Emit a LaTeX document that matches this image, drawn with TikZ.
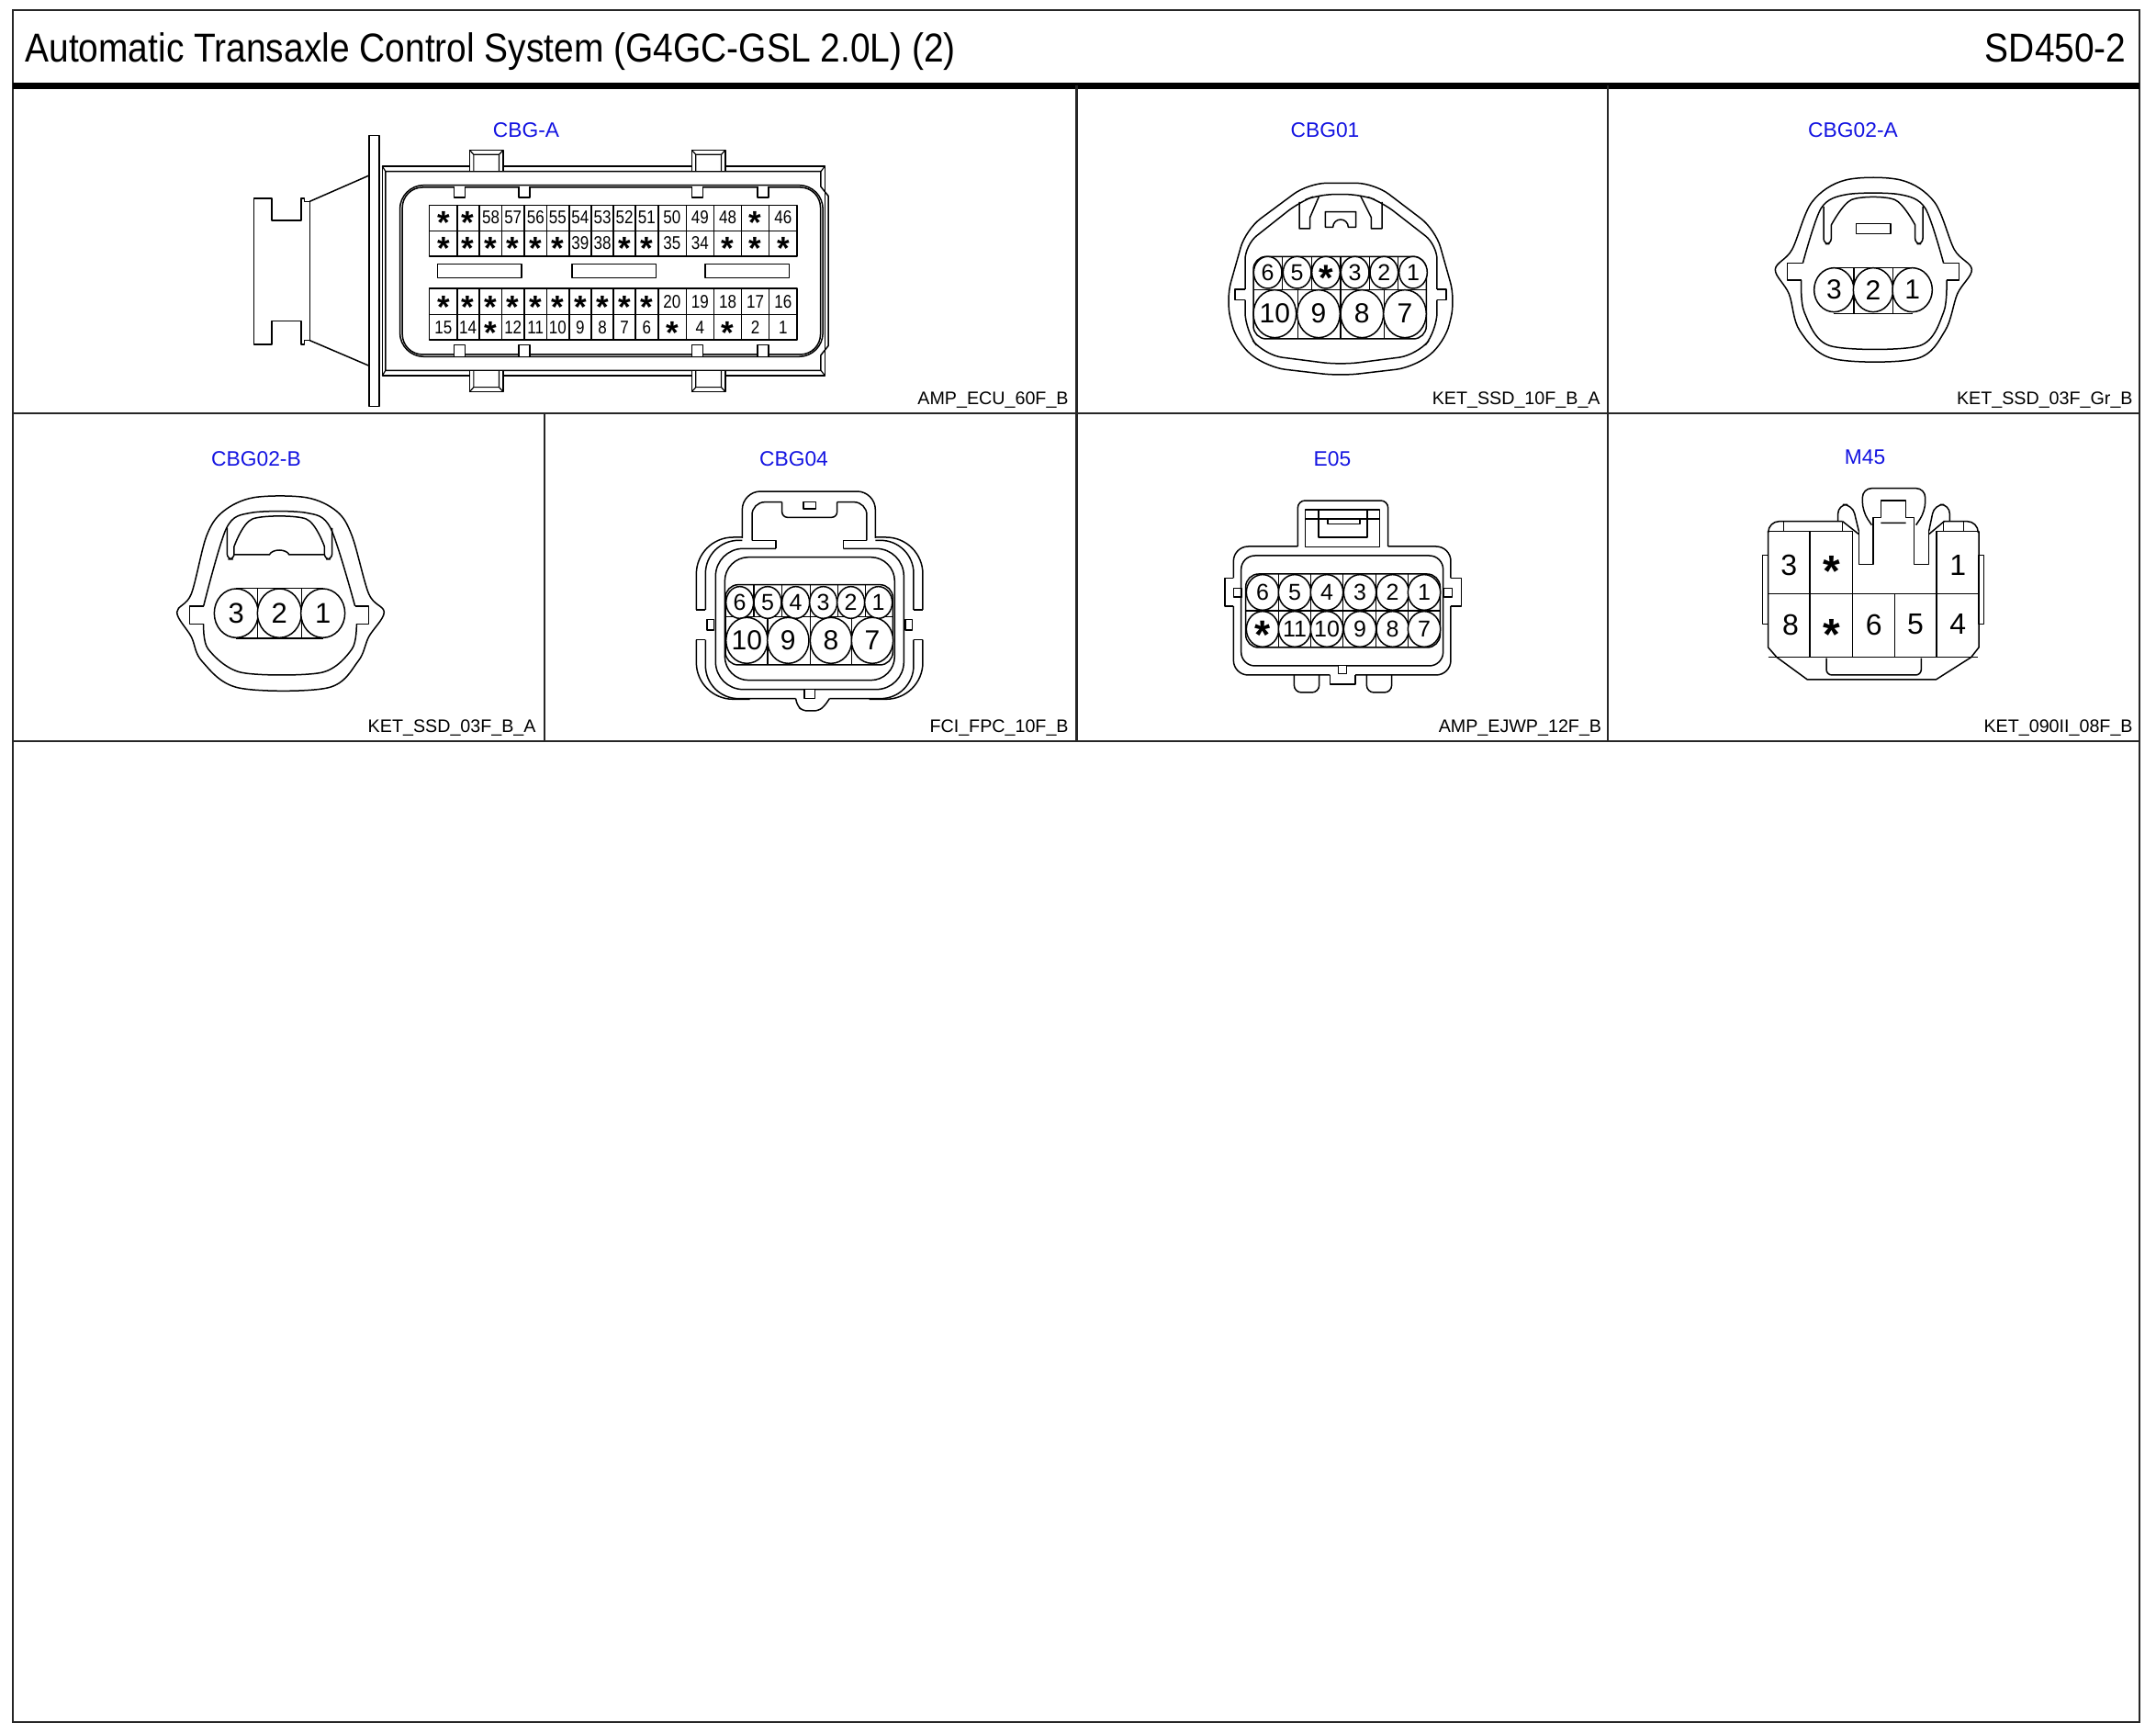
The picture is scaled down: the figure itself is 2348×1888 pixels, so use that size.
\documentclass[tikz,border=0pt]{standalone}
\usepackage{fontspec}
\setmainfont{Liberation Sans}
\newfontfamily\narrowpin[FakeStretch=0.85]{Liberation Sans}
\newfontfamily\titlefont[FakeStretch=0.885]{Liberation Sans}
\newcommand\starp[1]{{\fontsize{#1}{#1}\selectfont\bfseries\raisebox{-.5em}[.2em][.2em]{*}}}
\definecolor{headblue}{RGB}{20,20,225}
\tikzset{
  frameline/.style={line width=1.1pt,black!85},
  part/.style={line width=.75pt,black,line join=round},
  fine/.style={line width=.6pt,black},
  heading/.style={text=headblue,font=\fontsize{11.4}{12}\selectfont,inner sep=0pt},
  partno/.style={font=\fontsize{9.85}{11}\selectfont,inner sep=0pt,anchor=base east},
  pinlab/.style={inner sep=0pt},
  titletext/.style={inner sep=0pt,font=\titlefont\fontsize{22}{24}\selectfont},
}
% \pin{x}{y}{rx}{ry}{label}: white circular cavity with its printed number
\newcommand\pin[6]{\draw[part,fill=white] (#2,#3) ellipse [x radius=#4,y radius=#5];
  \node[pinlab] (#1) at (#2,#3) {#6};}
% \ecupin{name}{x}{y}{label}: a cell of the CBG-A grid, S stands for a star
\def\starcode{S}
\newcommand\ecupin[4]{\edef\curlab{#4}%
  \ifx\curlab\starcode\node[pinlab] (#1) at (#2,#3) {\starp{17.5}};%
  \else\node[pinlab] (#1) at (#2,#3) {\narrowpin\fontsize{10}{11}\selectfont #4};\fi}
\begin{document}
\begin{tikzpicture}[x=0.5pt,y=-0.5pt]
\useasboundingbox (0,0) rectangle (2348,1888);
\fill[white] (0,0) rectangle (2348,1888);
% frame
\draw[frameline] (14,11) rectangle (2330,1875);
\draw[line width=3.5pt] (14,93.5) -- (2330,93.5);
\draw[frameline] (14,450) -- (2330,450);
\draw[frameline] (14,807) -- (2330,807);
\draw[frameline] (1172.5,93) -- (1172.5,807);
\draw[frameline] (1751,93) -- (1751,807);
\draw[frameline] (593,450) -- (593,807);
\node[titletext,anchor=base west] (title) at (27,68) {Automatic Transaxle Control System (G4GC-GSL 2.0L) (2)};
\node[titletext,anchor=base east] (code) at (2316,68) {SD450-2};
% headings
\node[heading] (h1) at (573,142) {CBG-A};
\node[heading] (h2) at (1443,142) {CBG01};
\node[heading] (h3) at (2018,142) {CBG02-A};
\node[heading] (h4) at (279,499.5) {CBG02-B};
\node[heading] (h5) at (864.5,499.5) {CBG04};
\node[heading] (h6) at (1451,499.5) {E05};
\node[heading] (h7) at (2031,498) {M45};
% part numbers
\node[partno] (p1) at (1164,440) {AMP\_ECU\_60F\_B};
\node[partno] (p2) at (1743,440) {KET\_SSD\_10F\_B\_A};
\node[partno] (p3) at (2323,440) {KET\_SSD\_03F\_Gr\_B};
\node[partno] (p4) at (584,797) {KET\_SSD\_03F\_B\_A};
\node[partno] (p5) at (1164,797) {FCI\_FPC\_10F\_B};
\node[partno] (p6) at (1744.5,797) {AMP\_EJWP\_12F\_B};
\node[partno] (p7) at (2323,797) {KET\_090II\_08F\_B};

% ---------- CBG-A
\begin{scope}[shift={(240,110)},xscale=0.4464,yscale=0.3333]
\draw[part] (363,113) rectangle (388,998);
\draw[part] (395,213) -- (1475,213) -- (1475,897) -- (395,897) -- cycle;
\draw[part] (403,230) -- (1465,230) -- (1465,280) -- (1483,310) -- (1483,800) -- (1465,830) -- (1465,880) -- (403,880) -- cycle;
\draw[fine] (395,213) -- (403,230) (1475,213) -- (1465,230) (395,897) -- (403,880) (1475,897) -- (1465,880);
\draw[part,rounded corners=13pt] (438,275) rectangle (1470,835);
\draw[part,rounded corners=11pt] (444,282) rectangle (1464,828);
\foreach \a in {608,1150}{
  \draw[part,fill=white] (\a,228) -- (\a,160) -- (\a+82,160) -- (\a+82,228);
  \draw[fine] (\a+10,228) -- (\a+10,175) -- (\a+72,175) -- (\a+72,228) (\a,160)--(\a+10,175) (\a+82,160)--(\a+72,175);
  \draw[part,fill=white] (\a,882) -- (\a,950) -- (\a+82,950) -- (\a+82,882);
  \draw[fine] (\a+10,882) -- (\a+10,935) -- (\a+72,935) -- (\a+72,882) (\a,950)--(\a+10,935) (\a+82,950)--(\a+72,935);
}
\foreach \a in {570,728,1150,1310}{
  \draw[part,fill=white] (\a,278) -- (\a,315) -- (\a+27,315) -- (\a+27,278);
  \draw[part,fill=white] (\a,835) -- (\a,797) -- (\a+27,797) -- (\a+27,835);
}
% grids
\draw[part] (510,340) rectangle (1407,507) (510,425) -- (1407,425);
\draw[part] (510,612) rectangle (1407,780) (510,697) -- (1407,697);
\foreach \c in {578,632,687,742,796,851,905,959,1013,1068,1137,1204,1271,1339}{
  \draw[part] (\c,340) -- (\c,507) (\c,612) -- (\c,780);
}
\foreach \s in {530,858,1183}{ \draw[part] (\s,533) rectangle (\s+205,577); }
% left boot
\draw[part] (218,328) -- (205,328) -- (205,318) -- (197,318) -- (197,390) -- (125,390) -- (125,318) -- (82,318) -- (82,795) -- (125,795) -- (125,718) -- (197,718) -- (197,795) -- (205,795) -- (205,782) -- (218,782);
\draw[part] (218,328) -- (218,782);
\draw[part] (218,328) -- (363,243) (218,782) -- (363,865);
\foreach \x/\t [count=\i] in {544/S,604/S,660/58,714/57,769/56,823/55,878/54,932/53,986/52,1040/51,1102/50,1170/49,1238/48,1305/S,1373/46}{
  \ecupin{au\i}{\x}{381}{\t}
}
\foreach \x/\t [count=\i] in {544/S,604/S,660/S,714/S,769/S,823/S,878/39,932/38,986/S,1040/S,1102/35,1170/34,1238/S,1305/S,1373/S}{
  \ecupin{av\i}{\x}{465}{\t}
}
\foreach \x/\t [count=\i] in {544/S,604/S,660/S,714/S,769/S,823/S,878/S,932/S,986/S,1040/S,1102/20,1170/19,1238/18,1305/17,1373/16}{
  \ecupin{aw\i}{\x}{656}{\t}
}
\foreach \x/\t [count=\i] in {544/15,604/14,660/S,714/12,769/11,823/10,878/9,932/8,986/7,1040/6,1102/S,1170/4,1238/S,1305/2,1373/1}{
  \ecupin{ax\i}{\x}{740}{\t}
}
\end{scope}

% ---------- CBG01
\begin{scope}[shift={(1300,170)},scale=0.3333]
\draw[part,rounded corners=10pt] (105,470) -- (170,240) -- (375,88) -- (590,88) -- (790,240) -- (855,470) -- (820,610) -- (720,690) -- (480,718) -- (240,690) -- (140,610) -- cycle;
\draw[part,rounded corners=8pt] (168,435) -- (168,290) -- (345,150) -- (410,125) -- (545,125) -- (615,150) -- (795,290) -- (795,435);
\draw[part,rounded corners=10pt] (168,470) -- (168,570) -- (230,650) -- (480,682) -- (730,650) -- (795,570) -- (795,470);
\draw[part] (168,435) -- (135,435) -- (135,470) -- (168,470) (795,435) -- (825,435) -- (825,470) -- (795,470);
\draw[part] (345,150) -- (345,237) -- (380,237) -- (380,200) -- (410,130) (615,150) -- (615,237) -- (580,237) -- (580,200) -- (545,130);
\draw[part] (430,182) -- (530,182) -- (530,232) -- (505,232) arc [start angle=0,end angle=-180,x radius=25,y radius=25] -- (430,232) -- cycle;
\draw[part,rounded corners=7pt] (195,328) rectangle (760,597);
\draw[part] (195,437) -- (760,437);
\foreach \c in {290,385,480,575,668}{\draw[part] (\c,328) -- (\c,437);}
\foreach \c in {340,480,622}{\draw[part] (\c,437) -- (\c,597);}
\def\pf{\fontsize{12.5}{13}\selectfont}\def\pg{\fontsize{15}{16}\selectfont}
\pin{c6}{242}{380}{46}{52}{\pf 6}\pin{c5}{338}{380}{46}{52}{\pf 5}\pin{cs}{432}{380}{46}{52}{\starp{20}}
\pin{c3}{527}{380}{46}{52}{\pf 3}\pin{c2}{622}{380}{46}{52}{\pf 2}\pin{c1}{717}{380}{46}{52}{\pf 1}
\pin{c10}{265}{515}{70}{78}{\pg 10}\pin{c9}{408}{515}{70}{78}{\pg 9}\pin{c8}{550}{515}{70}{78}{\pg 8}\pin{c7}{690}{515}{70}{78}{\pg 7}
\end{scope}

% ---------- CBG02-A
\begin{scope}[shift={(1900,170)},scale=0.3333]
\draw[part] plot[smooth cycle,tension=.55] coordinates {(330,78)(510,78)(620,150)(685,305)(742,370)(695,450)(655,570)(560,662)(290,662)(180,570)(145,450)(100,370)(155,305)(220,150)};
\draw[part] plot[smooth,tension=.5] coordinates {(190,350)(250,170)(335,125)(505,125)(590,170)(650,350)};
\draw[part] (650,350) -- (700,350) -- (700,405) -- (660,405) (190,350) -- (140,350) -- (140,405) -- (185,405);
\draw[part] plot[smooth,tension=.5] coordinates {(185,405)(195,510)(280,620)(570,620)(650,510)(660,405)};
\draw[part,rounded corners=3pt] (258,165) -- (258,287) -- (283,287) -- (283,225);
\draw[part] plot[smooth,tension=.5] coordinates {(283,225)(350,142)(490,142)(557,225)};
\draw[part,rounded corners=3pt] (557,225) -- (557,287) -- (582,287) -- (582,165);
\draw[part] (365,220) rectangle (477,253);
\draw[part] (290,365) -- (550,365) (290,515) -- (550,515) (357,365) -- (357,515) (485,365) -- (485,515);
\def\pg{\fontsize{15}{16}\selectfont}
\pin{d3}{292}{437}{65}{72}{\pg 3}\pin{d2}{420}{437}{65}{72}{\pg 2}\pin{d1}{548}{437}{65}{72}{\pg 1}
\end{scope}

% ---------- CBG02-B
\begin{scope}[shift={(170,520)},scale=0.3333]
\draw[part] plot[smooth cycle,tension=.55] coordinates {(320,65)(490,65)(590,110)(640,190)(695,380)(745,440)(695,520)(660,600)(560,687)(270,687)(150,600)(115,520)(68,440)(115,380)(165,190)(220,110)};
\draw[part] plot[smooth,tension=.5] coordinates {(155,420)(230,165)(310,115)(490,115)(570,165)(650,420)};
\draw[part] (650,420) -- (695,420) -- (695,478) -- (655,478) (155,420) -- (110,420) -- (110,478) -- (155,478);
\draw[part] plot[smooth,tension=.5] coordinates {(155,478)(170,560)(280,637)(540,637)(640,560)(655,478)};
\draw[part,rounded corners=3pt] (232,165) -- (232,267) -- (255,267) -- (255,225);
\draw[part] plot[smooth,tension=.5] coordinates {(255,225)(315,135)(490,135)(550,225)};
\draw[part,rounded corners=3pt] (550,225) -- (550,267) -- (575,267) -- (575,165);
\draw[part] (255,252) -- (370,252) .. controls (380,232) and (425,232) .. (435,252) -- (550,252);
\draw[part] (262,362) -- (545,362) (262,525) -- (545,525) (332,362) -- (332,525) (475,362) -- (475,525);
\def\pg{\fontsize{15.5}{16}\selectfont}
\pin{b3}{262}{443}{72}{80}{\pg 3}\pin{b2}{403}{443}{72}{80}{\pg 2}\pin{b1}{545}{443}{72}{80}{\pg 1}
\end{scope}

% ---------- CBG04
\begin{scope}[shift={(740,520)},scale=0.3333]
\draw[part,rounded corners=10pt] (205,198) -- (205,45) -- (640,45) -- (640,198);
\draw[part,rounded corners=7pt] (237,205) -- (237,80) -- (335,80);
\draw[part,rounded corners=7pt] (515,80) -- (612,80) -- (612,205);
\draw[part,rounded corners=3pt] (335,80) -- (335,130) -- (515,130) -- (515,80);
\draw[part] (315,232) -- (315,205) -- (237,205) (535,232) -- (535,205) -- (612,205);
\draw[part] (405,80) rectangle (445,102);
\draw[part,rounded corners=20pt] (205,195) -- (55,195) -- (55,432);
\draw[part,rounded corners=18pt] (85,432) -- (85,205) -- (205,205);
\draw[part,rounded corners=20pt] (640,195) -- (795,195) -- (795,432);
\draw[part,rounded corners=18pt] (765,432) -- (765,205) -- (640,205);
\draw[part] (55,432) -- (85,432) (55,530) -- (85,530) (795,432) -- (765,432) (795,530) -- (765,530);
\draw[part,rounded corners=20pt] (55,530) -- (55,724) -- (230,724);
\draw[part,rounded corners=20pt] (795,530) -- (795,724) -- (620,724);
\draw[part,rounded corners=18pt] (85,530) -- (85,722) -- (380,722);
\draw[part,rounded corners=18pt] (765,530) -- (765,722) -- (490,722);
\draw[part,rounded corners=2.5pt] (380,722) -- (385,745) -- (402,762) -- (455,762) -- (475,745) -- (490,722);
\draw[part,rounded corners=15pt] (315,232) -- (118,232) -- (118,692) -- (733,692) -- (733,232) -- (535,232);
\draw[part,rounded corners=13pt] (148,260) rectangle (703,662);
\draw[part,fill=white] (408,692) rectangle (442,722);
\draw[part] (90,463) rectangle (112,498) (738,463) rectangle (760,498);
\draw[part,rounded corners=7pt] (150,350) rectangle (697,612);
\draw[part] (150,455) -- (697,455);
\foreach \c in {243,335,427,517,608}{\draw[part] (\c,350) -- (\c,455);}
\foreach \c in {288,427,563}{\draw[part] (\c,455) -- (\c,612);}
\def\pf{\fontsize{12.5}{13}\selectfont}\def\pg{\fontsize{15}{16}\selectfont}
\pin{e6}{197}{408}{45}{52}{\pf 6}\pin{e5}{288}{408}{45}{52}{\pf 5}\pin{e4}{380}{408}{45}{52}{\pf 4}
\pin{e3}{470}{408}{45}{52}{\pf 3}\pin{e2}{560}{408}{45}{52}{\pf 2}\pin{e1}{650}{408}{45}{52}{\pf 1}
\pin{e10}{220}{532}{68}{75}{\pg 10}\pin{e9}{355}{532}{68}{75}{\pg 9}\pin{e8}{495}{532}{68}{75}{\pg 8}\pin{e7}{630}{532}{68}{75}{\pg 7}
\end{scope}

% ---------- E05
\begin{scope}[shift={(1320,530)},scale=0.3333]
\draw[part,rounded corners=4pt] (280,195) -- (280,45) -- (575,45) -- (575,195);
\draw[part,rounded corners=8pt] (280,195) -- (70,195) -- (70,298);
\draw[part,rounded corners=8pt] (575,195) -- (780,195) -- (780,298);
\draw[part] (70,298) -- (42,298) -- (42,390) -- (70,390) (780,298) -- (815,298) -- (815,390) -- (780,390);
\draw[part,rounded corners=8pt] (70,390) -- (70,615) -- (385,615);
\draw[part,rounded corners=8pt] (780,390) -- (780,615) -- (468,615);
\draw[part] (385,615) -- (385,645) -- (468,645) -- (468,615);
\draw[part] (305,75) rectangle (548,197) (305,105) -- (548,105) (348,75) -- (348,165) -- (507,165) -- (507,75);
\draw[part] (378,122) -- (378,103) -- (483,103) -- (483,122) -- cycle;
\draw[part,rounded corners=7.5pt] (95,225) rectangle (755,585);
\draw[part,fill=white] (413,585) -- (413,610) -- (440,610) -- (440,585);
\draw[part,rounded corners=4pt] (268,615) -- (268,672) -- (350,672) -- (350,615);
\draw[part,rounded corners=4pt] (505,615) -- (505,672) -- (587,672) -- (587,615);
\draw[part] (70,332) rectangle (97,360) (757,332) rectangle (785,360);
\draw[part,rounded corners=7pt] (110,285) rectangle (745,525);
\draw[part] (110,405) -- (745,405);
\foreach \c in {218,322,428,535,640}{\draw[part] (\c,285) -- (\c,525);}
\def\pf{\fontsize{12.5}{13}\selectfont}
\pin{f6}{165}{345}{53}{58}{\pf 6}\pin{f5}{270}{345}{53}{58}{\pf 5}\pin{f4}{375}{345}{53}{58}{\pf 4}
\pin{f3}{483}{345}{53}{58}{\pf 3}\pin{f2}{590}{345}{53}{58}{\pf 2}\pin{f1}{693}{345}{53}{58}{\pf 1}
\pin{fs}{165}{465}{53}{58}{\starp{22}}\pin{f11}{270}{465}{53}{58}{\pf 11}\pin{f10}{375}{465}{53}{58}{\pf 10}
\pin{f9}{483}{465}{53}{58}{\pf 9}\pin{f8}{590}{465}{53}{58}{\pf 8}\pin{f7}{693}{465}{53}{58}{\pf 7}
\end{scope}

% ---------- M45
\begin{scope}[shift={(1910,520)},scale=0.3333]
\draw[part] (47,175) -- (47,555) -- (75,587) -- (175,660) -- (595,660) -- (710,587) -- (735,555) -- (735,175);
\draw[part] (47,587) -- (733,587) (47,380) -- (733,380) (47,175) -- (322,175) (597,175) -- (733,175);
\draw[part] (183,175) -- (183,587) (322,175) -- (322,587) (460,380) -- (460,587) (597,175) -- (597,587);
\draw[part,rounded corners=6pt] (47,175) -- (47,143) -- (290,143);
\draw[part] (97,143) -- (97,175) (290,143) -- (290,175);
\draw[part,rounded corners=6pt] (620,143) -- (733,143) -- (733,175);
\draw[part] (620,143) -- (620,175) (685,143) -- (685,175);
\draw[part,rounded corners=5pt] (275,143) -- (275,88) -- (322,88) -- (343,175);
\draw[part] (343,175) -- (343,283) -- (390,283) -- (390,130) -- (415,130) -- (415,75) -- (497,75) -- (497,130) -- (523,130) -- (523,283) -- (572,283) -- (572,175);
\draw[part,rounded corners=5pt] (572,175) -- (590,88) -- (640,88) -- (640,143);
\draw[part] (290,143) -- (343,185) (622,143) -- (572,185) (415,148) -- (497,148);
\draw[part,rounded corners=5pt] (385,155) -- (355,110) -- (355,35) -- (560,35) -- (560,110) -- (530,155);
\draw[part] (28,253) rectangle (47,478) (735,253) rectangle (752,478);
\draw[part,rounded corners=3pt] (237,590) -- (237,645) -- (547,645) -- (547,590);
\def\pg{\fontsize{16}{17}\selectfont}
\node[pinlab] (g3) at (115,285) {\pg 3};
\node[pinlab] (gs1) at (253,285) {\starp{24}};
\node[pinlab] (g1) at (667,285) {\pg 1};
\node[pinlab] (g8) at (120,480) {\pg 8};
\node[pinlab] (gs2) at (253,490) {\starp{24}};
\node[pinlab] (g6) at (392,480) {\pg 6};
\node[pinlab] (g5) at (528,480) {\pg 5};
\node[pinlab] (g4) at (667,480) {\pg 4};
\end{scope}
\end{tikzpicture}
\end{document}
